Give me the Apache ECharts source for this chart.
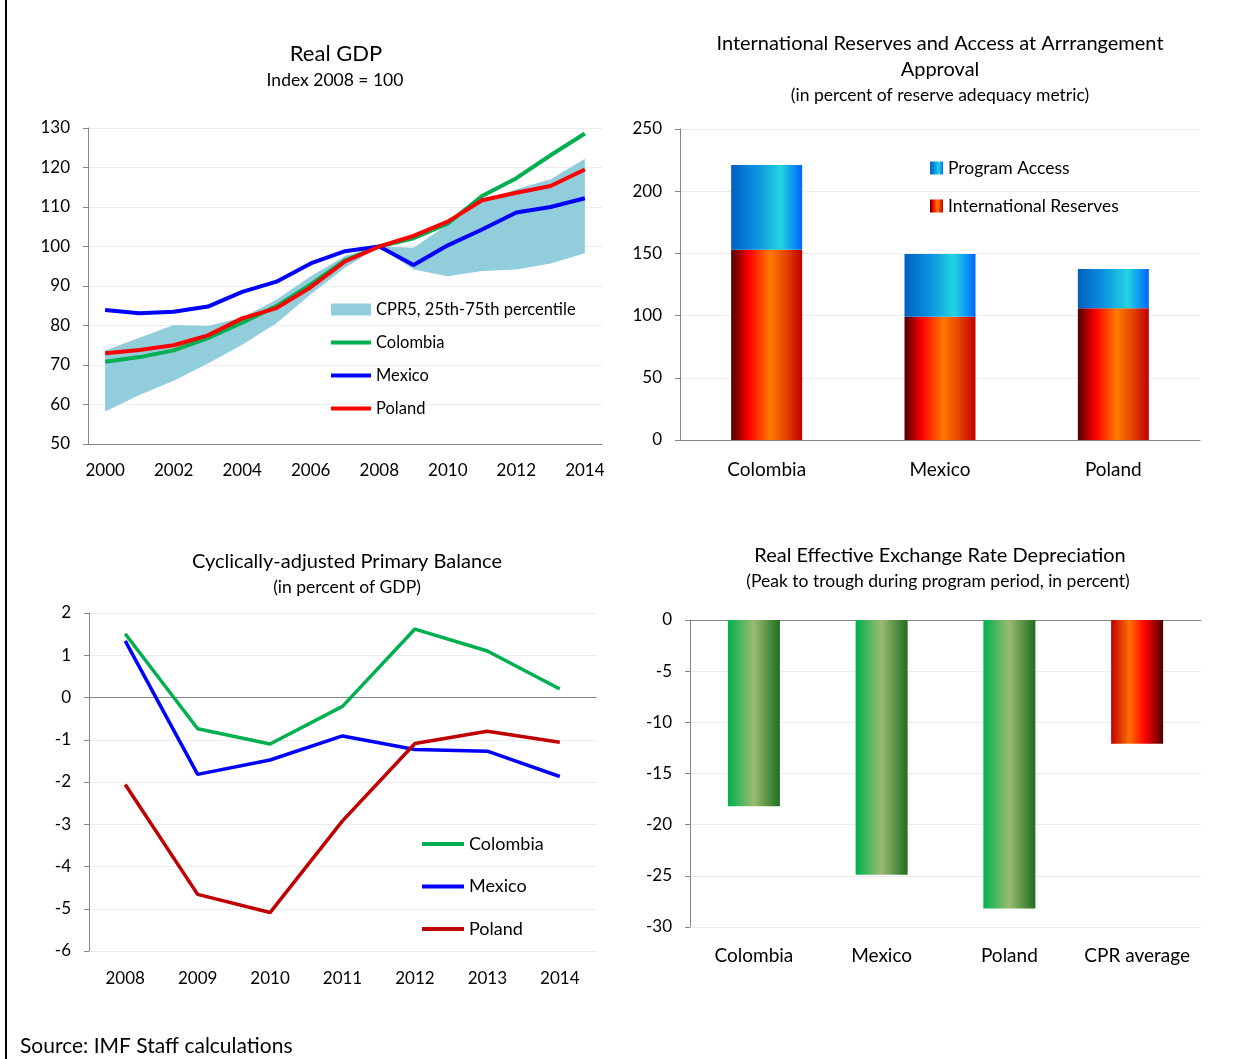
<!DOCTYPE html>
<html>
<head>
<meta charset="utf-8">
<script src="https://cdn.jsdelivr.net/npm/echarts@6/dist/echarts.min.js"></script>
<style>
  html, body { margin: 0; padding: 0; background: #fff; }
  #main { width: 1257px; height: 1059px; }
</style>
</head>
<body>
<div id="main"></div>
<script>
// Real GDP, index 2008 = 100
const gdpYears = ['2000', '2001', '2002', '2003', '2004', '2005', '2006', '2007',
                  '2008', '2009', '2010', '2011', '2012', '2013', '2014'];
const gdpColombia = [70.8, 72.0, 73.7, 76.8, 80.7, 84.9, 90.4, 96.5, 100, 102.1, 105.8, 112.8, 117.3, 123.1, 128.6];
const gdpMexico = [83.9, 83.1, 83.5, 84.8, 88.5, 91.1, 95.7, 98.8, 100, 95.3, 100.3, 104.3, 108.6, 110.0, 112.2];
const gdpPoland = [73.0, 73.8, 75.0, 77.5, 81.8, 84.4, 89.7, 96.2, 100, 102.7, 106.3, 111.7, 113.6, 115.3, 119.5];
const cprLow = [58.2, 62.4, 66.0, 70.4, 75.1, 80.6, 87.9, 94.6, 100, 94.2, 92.5, 93.8, 94.2, 95.7, 98.3];
const cprHigh = [73.7, 76.9, 80.1, 79.9, 82.0, 86.5, 92.5, 97.6, 100, 99.7, 105.6, 111.5, 114.5, 117.0, 122.2];

// reserves at arrangement approval
const raCountries = ['Colombia', 'Mexico', 'Poland'];
const raReserves = [153, 99, 106];
const raAccess = [68, 50.5, 31.5];

// cyclically-adjusted primary balance
const cabYears = ['2008', '2009', '2010', '2011', '2012', '2013', '2014'];
const cabColombia = [1.51, -0.74, -1.10, -0.21, 1.62, 1.10, 0.20];
const cabMexico = [1.34, -1.82, -1.48, -0.91, -1.23, -1.27, -1.87];
const cabPoland = [-2.06, -4.66, -5.09, -2.92, -1.09, -0.80, -1.06];

// REER depreciation
const reerCats = ['Colombia', 'Mexico', 'Poland', 'CPR average'];
const reerValues = [-18.2, -24.9, -28.2, -12.1];

const FONT = 'Lato';
const AXIS = '#868686';
const GRIDLINE = '#ececec';
const LINE_ICON = 'path://M0,0H40V4H0Z';

function hGrad(stops) {
    return new echarts.graphic.LinearGradient(0, 0, 1, 0,
        stops.map(s => ({ offset: s[0], color: s[1] })));
}
const redGrad = hGrad([[0, '#500000'], [0.25, '#ff0000'], [0.55, '#ff7a00'], [0.8, '#e03c00'], [1, '#c00000']]);
const blueGrad = hGrad([[0, '#0060c0'], [0.35, '#0a90e0'], [0.7, '#22d4e0'], [1, '#0066ff']]);
const greenGrad = hGrad([[0, '#00b050'], [0.5, '#9bbb70'], [1, '#1e6e1e']]);
const redGrad2 = hGrad([[0, '#c00000'], [0.35, '#ff7000'], [0.65, '#ff0000'], [1, '#4d0000']]);

function valueAxis(grid, min, max, interval) {
    return {
        gridIndex: grid, type: 'value', min: min, max: max, interval: interval,
        axisLine: { show: true, lineStyle: { color: AXIS } },
        axisTick: { show: true, length: 5, lineStyle: { color: AXIS } },
        axisLabel: { fontSize: 17, color: '#000', fontFamily: FONT, margin: 18 },
        splitLine: { lineStyle: { color: GRIDLINE } }
    };
}

function lineSeries(name, data, color, width, xi, yi) {
    return {
        name: name, type: 'line', data: data, xAxisIndex: xi, yAxisIndex: yi,
        symbol: 'none', lineStyle: { color: color, width: width }, itemStyle: { color: color },
        z: 3
    };
}

function lineLegend(name, color) {
    return { name: name, icon: LINE_ICON, itemStyle: { color: color } };
}

function titleText(text, x, y, size) {
    return {
        type: 'text', x: x, y: y,
        style: { text: text, fontSize: size, fontFamily: FONT, fill: '#000',
                 textAlign: 'center', textVerticalAlign: 'middle' }
    };
}

const chart = echarts.init(document.getElementById('main'), null, { renderer: 'canvas' });

const option = {
    backgroundColor: '#ffffff',
    animation: false,
    textStyle: { fontFamily: FONT },
    grid: [
        { left: 88, top: 128, width: 514, height: 316 },
        { left: 680, top: 129, width: 520, height: 311 },
        { left: 89, top: 613, width: 507, height: 338 },
        { left: 690, top: 620, width: 511, height: 307 }
    ],
    xAxis: [
        {
            gridIndex: 0, type: 'category', data: gdpYears, boundaryGap: true,
            axisLine: { lineStyle: { color: AXIS } },
            axisTick: { interval: 0, length: 5, lineStyle: { color: AXIS } },
            axisLabel: { interval: 1, fontSize: 17, color: '#000', margin: 18 }
        },
        {
            gridIndex: 1, type: 'category', data: raCountries,
            axisLine: { lineStyle: { color: AXIS } },
            axisTick: { interval: 0, length: 6, lineStyle: { color: AXIS } },
            axisLabel: { interval: 0, fontSize: 19, color: '#000', margin: 20 }
        },
        {
            gridIndex: 2, type: 'category', data: cabYears, position: 'bottom',
            axisLine: { show: false, onZero: false },
            axisTick: { show: false },
            axisLabel: { interval: 0, fontSize: 17, color: '#000', margin: 19 }
        },
        {
            gridIndex: 2, type: 'category', data: cabYears, position: 'bottom',
            axisLine: { onZero: true, onZeroAxisIndex: 2, lineStyle: { color: AXIS } },
            axisTick: { interval: 0, length: 5, lineStyle: { color: AXIS } },
            axisLabel: { show: false }
        },
        {
            gridIndex: 3, type: 'category', data: reerCats, position: 'bottom',
            axisLine: { show: false, onZero: false },
            axisTick: { show: false },
            axisLabel: { interval: 0, fontSize: 19, color: '#000', margin: 19 }
        },
        {
            gridIndex: 3, type: 'category', data: reerCats, position: 'bottom',
            axisLine: { onZero: true, onZeroAxisIndex: 3, lineStyle: { color: AXIS } },
            axisTick: { interval: 0, length: 6, lineStyle: { color: AXIS } },
            axisLabel: { show: false }
        }
    ],
    yAxis: [
        valueAxis(0, 50, 130, 10),
        valueAxis(1, 0, 250, 50),
        valueAxis(2, -6, 2, 1),
        valueAxis(3, -30, 0, 5)
    ],
    legend: [
        {
            orient: 'vertical', left: 331, top: 301, padding: 0,
            itemWidth: 40, itemHeight: 12, itemGap: 16,
            textStyle: { fontSize: 16.5, color: '#000', fontFamily: FONT },
            data: [
                { name: 'CPR5, 25th-75th percentile', icon: 'rect', itemStyle: { color: '#92CDDC' } },
                lineLegend('Colombia', '#00B050'),
                lineLegend('Mexico', '#0000FF'),
                lineLegend('Poland', '#FF0000')
            ]
        },
        {
            orient: 'vertical', left: 930, top: 159, padding: 0,
            itemWidth: 13, itemHeight: 13, itemGap: 20,
            textStyle: { fontSize: 17.5, color: '#000', fontFamily: FONT },
            data: [
                { name: 'Program Access', icon: 'rect' },
                { name: 'International Reserves', icon: 'rect' }
            ]
        },
        {
            orient: 'vertical', left: 422, top: 835, padding: 0,
            itemWidth: 42, itemHeight: 14, itemGap: 24.5,
            textStyle: { fontSize: 18, color: '#000', fontFamily: FONT },
            data: [
                lineLegend('Colombia', '#00B050'),
                lineLegend('Mexico', '#0000FF'),
                lineLegend('Poland', '#C00000')
            ]
        }
    ],
    series: [
        {
            name: 'cprBase', type: 'line', stack: 'cpr', data: cprLow,
            xAxisIndex: 0, yAxisIndex: 0, symbol: 'none', silent: true,
            lineStyle: { opacity: 0 }, z: 1
        },
        {
            name: 'CPR5, 25th-75th percentile', type: 'line', stack: 'cpr',
            data: cprHigh.map((h, i) => +(h - cprLow[i]).toFixed(2)),
            xAxisIndex: 0, yAxisIndex: 0, symbol: 'none', silent: true,
            lineStyle: { width: 0, opacity: 0 },
            itemStyle: { color: '#92CDDC' },
            areaStyle: { color: '#92CDDC', opacity: 1 }, z: 1
        },
        lineSeries('Colombia', gdpColombia, '#00B050', 4, 0, 0),
        lineSeries('Mexico', gdpMexico, '#0000FF', 4, 0, 0),
        lineSeries('Poland', gdpPoland, '#FF0000', 4, 0, 0),
        {
            name: 'International Reserves', type: 'bar', stack: 'ra', data: raReserves,
            xAxisIndex: 1, yAxisIndex: 1, barWidth: 71, itemStyle: { color: redGrad }
        },
        {
            name: 'Program Access', type: 'bar', stack: 'ra', data: raAccess,
            xAxisIndex: 1, yAxisIndex: 1, barWidth: 71, itemStyle: { color: blueGrad }
        },
        lineSeries('Colombia', cabColombia, '#00B050', 3.5, 2, 2),
        lineSeries('Mexico', cabMexico, '#0000FF', 3.5, 2, 2),
        lineSeries('Poland', cabPoland, '#C00000', 3.5, 2, 2),
        {
            name: 'REER', type: 'bar', xAxisIndex: 4, yAxisIndex: 3, barWidth: 52,
            data: reerValues.map((v, i) => ({
                value: v,
                itemStyle: { color: reerCats[i] === 'CPR average' ? redGrad2 : greenGrad }
            }))
        }
    ],
    graphic: [
        { type: 'line', shape: { x1: 6, y1: 0, x2: 6, y2: 1059 }, style: { stroke: '#000', lineWidth: 2 } },
        titleText('Real GDP', 336, 54, 22),
        titleText('Index 2008 = 100', 335, 80, 17.5),
        titleText('International Reserves and Access at Arrrangement', 940, 44, 20),
        titleText('Approval', 940, 70, 20),
        titleText('(in percent of reserve adequacy metric)', 940, 95, 17.5),
        titleText('Cyclically-adjusted Primary Balance', 347, 562, 20),
        titleText('(in percent of GDP)', 347, 587, 17.5),
        titleText('Real Effective Exchange Rate Depreciation', 940, 556, 20),
        titleText('(Peak to trough during program period, in percent)', 938, 581, 17.5),
        {
            type: 'text', x: 20, y: 1046,
            style: { text: 'Source: IMF Staff calculations', fontSize: 21, fontFamily: FONT,
                     fill: '#000', textAlign: 'left', textVerticalAlign: 'middle' }
        }
    ]
};

chart.setOption(option);
</script>
</body>
</html>
